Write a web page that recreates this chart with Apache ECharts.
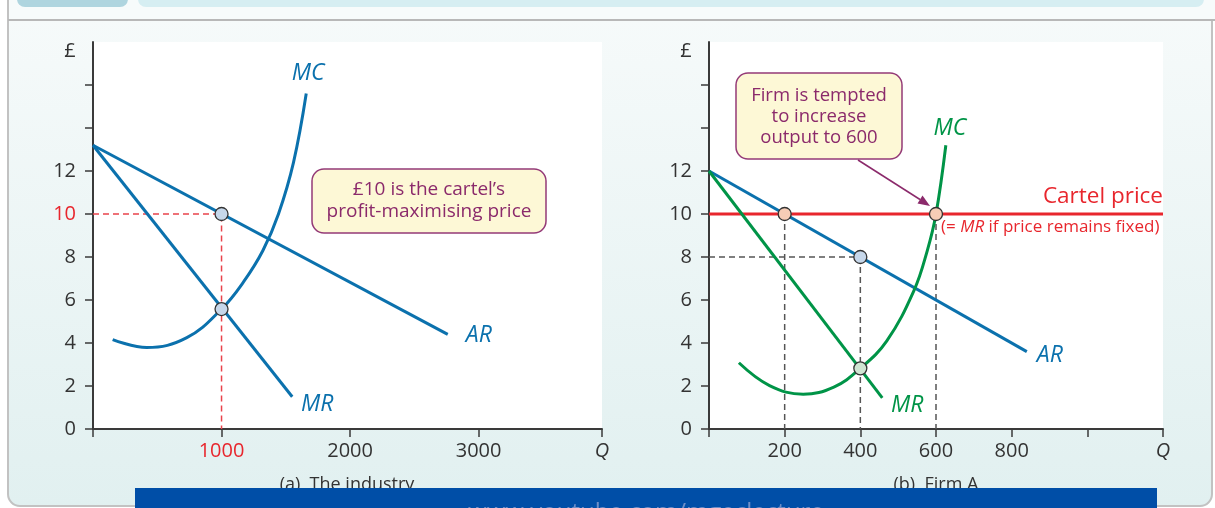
<!DOCTYPE html>
<html><head><meta charset="utf-8">
<script src="https://cdn.jsdelivr.net/npm/echarts@6/dist/echarts.min.js"></script>
<style>html,body{margin:0;padding:0;background:#fff}#c{width:1215px;height:508px}</style>
</head><body><div id="c"></div>
<script>
// ---------- data ----------
const priceTicks = [0, 2, 4, 6, 8, 10, 12, 14, 16];
const priceLabels = [0, 2, 4, 6, 8, 10, 12];
const priceMax = 18;

// (a) The industry
const industryQTicks = [0, 1000, 2000, 3000];
const industryQLabels = [1000, 2000, 3000];
const industryQMax = 3960;
const industryAR = [[0, 13.2], [2760, 4.4]];
const industryMR = [[0, 13.2], [1550, 1.5]];
const industryMC = [[153, 4.16], [418, 3.79], [730, 4.25], [1000, 5.58], [1171, 6.84], [1322, 8.3], [1443, 10.0], [1560, 12.4], [1659, 15.6]];
const industryCartelQ = 1000;
const industryCartelPrice = 10;
const industryMCatQ = 5.58;

// (b) Firm A
const firmQTicks = [0, 200, 400, 600, 800, 1000, 1200];
const firmQLabels = [200, 400, 600, 800];
const firmQMax = 1200;
const firmAR = [[0, 12], [840, 3.6]];
const firmMR = [[0, 12], [458, 1.45]];
const firmMC = [[79, 3.08], [160, 2.02], [249, 1.62], [330, 1.95], [400, 2.82], [470, 4.1], [542, 6.45], [577, 8.3], [600, 10.0], [626, 13.2]];
const cartelPrice = 10;
const firmQAtCartelAR = 200;   // on AR at cartel price
const firmQTempted = 600;      // MC = cartel price
const firmQQuota = 400;
const firmPriceAtQuota = 8;
const firmMCAtQuota = 2.82;

// ---------- styles ----------
const FONT = '"Open Sans", "Liberation Sans", sans-serif';
const BLUE = '#0b71ad', GREEN = '#009447', RED = '#e8262d', DRED = '#e9434b';
const AXIS = '#3a3a3a', TXT = '#333333', PURPLE = '#8b2a6b';
const TICKFS = 20;

function axisX(grid, max, ticks, labels, redVal) {
  return {
    gridIndex: grid, type: 'value', min: 0, max: max,
    axisLine: {show: true, onZero: false, lineStyle: {color: AXIS, width: 2}},
    axisTick: {show: true, customValues: ticks.concat([max]), length: 8, lineStyle: {color: AXIS, width: 1.5}},
    axisLabel: {
      show: true, customValues: labels.concat([max]), margin: 12, fontSize: TICKFS, color: TXT, fontFamily: FONT,
      formatter: v => v === max ? '{q|Q}' : (v === redVal ? '{r|' + v + '}' : String(v)),
      rich: {q: {fontStyle: 'italic', fontSize: TICKFS, color: TXT, fontFamily: FONT}, r: {color: RED, fontSize: TICKFS, fontFamily: FONT}}
    },
    splitLine: {show: false}
  };
}
function axisY(grid, redVal) {
  return {
    gridIndex: grid, type: 'value', min: 0, max: priceMax,
    axisLine: {show: true, onZero: false, lineStyle: {color: AXIS, width: 2}},
    axisTick: {show: true, customValues: priceTicks, length: 8, lineStyle: {color: AXIS, width: 1.5}},
    axisLabel: {
      show: true, customValues: priceLabels, margin: 17, fontSize: TICKFS, color: TXT, fontFamily: FONT,
      formatter: v => v === redVal ? '{r|' + v + '}' : String(v),
      rich: {r: {color: RED, fontSize: TICKFS, fontFamily: FONT}}
    },
    splitLine: {show: false}
  };
}
function curve(grid, data, color, name, offset, smooth) {
  const end = data[data.length - 1];
  return {
    type: 'line', xAxisIndex: grid, yAxisIndex: grid, data: data, smooth: smooth || false,
    showSymbol: false, symbol: 'none', z: 3,
    lineStyle: {color: color, width: 3}, silent: true,
    markPoint: {
      symbol: 'circle', symbolSize: 1, itemStyle: {color: 'rgba(0,0,0,0)'}, silent: true, animation: false,
      data: [{coord: end}],
      label: {show: true, position: 'inside', offset: offset, formatter: name, color: color, fontSize: 23, fontStyle: 'italic', fontFamily: FONT}
    }
  };
}
function guide(grid, data, color) {
  return {type: 'line', xAxisIndex: grid, yAxisIndex: grid, data: data, showSymbol: false, symbol: 'none', z: 2, silent: true,
    lineStyle: {color: color, width: 1.5, type: [6, 4]}};
}
function dots(grid, data, fill) {
  return {type: 'scatter', xAxisIndex: grid, yAxisIndex: grid, data: data, symbolSize: 13, z: 6, silent: true,
    itemStyle: {color: fill, borderColor: '#333', borderWidth: 1.3, opacity: 1}};
}

const series = [
  // (a)
  guide(0, [[0, industryCartelPrice], [industryCartelQ, industryCartelPrice], [industryCartelQ, 0]], DRED),
  curve(0, industryAR, BLUE, 'AR', [31, 1]),
  curve(0, industryMR, BLUE, 'MR', [25, 8]),
  curve(0, industryMC, BLUE, 'MC', [2, -20], 0.4),
  dots(0, [[industryCartelQ, industryCartelPrice], [industryCartelQ, industryMCatQ]], '#c6d7ea'),
  // (b)
  guide(1, [[firmQAtCartelAR, cartelPrice], [firmQAtCartelAR, 0]], '#555'),
  guide(1, [[firmQQuota, firmPriceAtQuota], [firmQQuota, 0]], '#555'),
  guide(1, [[firmQTempted, cartelPrice], [firmQTempted, 0]], '#555'),
  guide(1, [[0, firmPriceAtQuota], [firmQQuota, firmPriceAtQuota]], '#555'),
  {type: 'line', xAxisIndex: 1, yAxisIndex: 1, data: [[0, cartelPrice], [firmQMax, cartelPrice]], showSymbol: false, symbol: 'none', z: 3, silent: true,
    lineStyle: {color: RED, width: 3}},
  curve(1, firmAR, BLUE, 'AR', [23, 4]),
  curve(1, firmMR, GREEN, 'MR', [25, 8]),
  curve(1, firmMC, GREEN, 'MC', [4, -17], 0.4),
  dots(1, [[firmQAtCartelAR, cartelPrice], [firmQTempted, cartelPrice]], '#f7cdb6'),
  dots(1, [[firmQQuota, firmPriceAtQuota]], '#c6d7ea'),
  dots(1, [[firmQQuota, firmMCAtQuota]], '#cfe5d2')
];

const bgGrad = new echarts.graphic.LinearGradient(0, 0, 0, 1, [{offset: 0, color: '#f8fbfb'}, {offset: 1, color: '#e1f0f0'}]);

const graphic = [
  // frame
  {type: 'rect', z: -10, silent: true, shape: {x: 8, y: -30, width: 1204, height: 536, r: 12}, style: {fill: bgGrad, stroke: '#c2c2c2', lineWidth: 2}},
  {type: 'rect', z: -9, silent: true, shape: {x: 9, y: 0, width: 1206, height: 19}, style: {fill: '#f7fbfb'}},
  {type: 'rect', z: -8, silent: true, shape: {x: 17, y: -12, width: 111, height: 19, r: 8}, style: {fill: '#afd5df'}},
  {type: 'rect', z: -8, silent: true, shape: {x: 138, y: -12, width: 1066, height: 19, r: 8}, style: {fill: '#d6eef2'}},
  {type: 'line', z: -7, silent: true, shape: {x1: 8, y1: 20, x2: 1215, y2: 20}, style: {stroke: '#b8b8b8', lineWidth: 2}},
  // pound signs
  {type: 'text', silent: true, style: {text: '£', x: 70, y: 51, align: 'center', verticalAlign: 'middle', fill: TXT, font: '20px ' + FONT}},
  {type: 'text', silent: true, style: {text: '£', x: 686, y: 51, align: 'center', verticalAlign: 'middle', fill: TXT, font: '20px ' + FONT}},
  // annotation boxes
  {type: 'rect', z: 20, silent: true, shape: {x: 312, y: 169, width: 234, height: 64, r: 12}, style: {fill: '#fdf8d6', stroke: '#943a77', lineWidth: 1.5}},
  {type: 'text', z: 21, silent: true, style: {text: '£10 is the cartel’s\nprofit-maximising price', x: 429, y: 201, align: 'center', verticalAlign: 'middle', lineHeight: 22, fill: PURPLE, font: '19px ' + FONT}},
  {type: 'rect', z: 20, silent: true, shape: {x: 736, y: 73, width: 166, height: 86, r: 12}, style: {fill: '#fdf8d6', stroke: '#943a77', lineWidth: 1.5}},
  {type: 'text', z: 21, silent: true, style: {text: 'Firm is tempted\nto increase\noutput to 600', x: 819, y: 117, align: 'center', verticalAlign: 'middle', lineHeight: 21, fill: PURPLE, font: '18.5px ' + FONT}},
  {type: 'line', z: 20, silent: true, shape: {x1: 858, y1: 160, x2: 920, y2: 199.5}, style: {stroke: PURPLE, lineWidth: 1.5}},
  {type: 'polygon', z: 20, silent: true, shape: {points: [[930, 206], [917.5, 203.5], [922.5, 195.5]]}, style: {fill: PURPLE}},
  // cartel price labels
  {type: 'text', z: 21, silent: true, style: {text: 'Cartel price', x: 1163, y: 197, align: 'right', verticalAlign: 'middle', fill: RED, font: '22.5px ' + FONT}},
  {type: 'text', z: 21, silent: true, style: {text: '(= {i|MR} if price remains fixed)', x: 941, y: 227, align: 'left', verticalAlign: 'middle', fill: RED, font: '17px ' + FONT,
    rich: {i: {fontStyle: 'italic', fill: RED, fontSize: 17, fontFamily: FONT}}}},
  // captions
  {type: 'text', silent: true, style: {text: '(a)  The industry', x: 347, y: 476, align: 'center', verticalAlign: 'top', fill: TXT, font: '18px ' + FONT}},
  {type: 'text', silent: true, style: {text: '(b)  Firm A', x: 936, y: 476, align: 'center', verticalAlign: 'top', fill: TXT, font: '18px ' + FONT}},
  // banner
  {type: 'rect', z: 30, silent: true, shape: {x: 135, y: 488, width: 1022, height: 20}, style: {fill: '#004ea7'}},
  {type: 'text', z: 31, silent: true, style: {text: 'www.youtube.com/mgeclecture', x: 646, y: 501, align: 'center', verticalAlign: 'top', fill: '#6f8fc8', font: '24px ' + FONT}}
];

const chart = echarts.init(document.getElementById('c'), null, {renderer: 'canvas'});
chart.setOption({
  animation: false,
  backgroundColor: '#ffffff',
  grid: [
    {left: 93, top: 42, width: 509, height: 387, show: true, backgroundColor: '#ffffff', borderWidth: 0, containLabel: false, outerBoundsMode: 'none'},
    {left: 709, top: 42, width: 454, height: 387, show: true, backgroundColor: '#ffffff', borderWidth: 0, containLabel: false, outerBoundsMode: 'none'}
  ],
  xAxis: [axisX(0, industryQMax, industryQTicks, industryQLabels, industryCartelQ), axisX(1, firmQMax, firmQTicks, firmQLabels, null)],
  yAxis: [axisY(0, industryCartelPrice), axisY(1, null)],
  series: series,
  graphic: graphic
});
</script></body></html>
